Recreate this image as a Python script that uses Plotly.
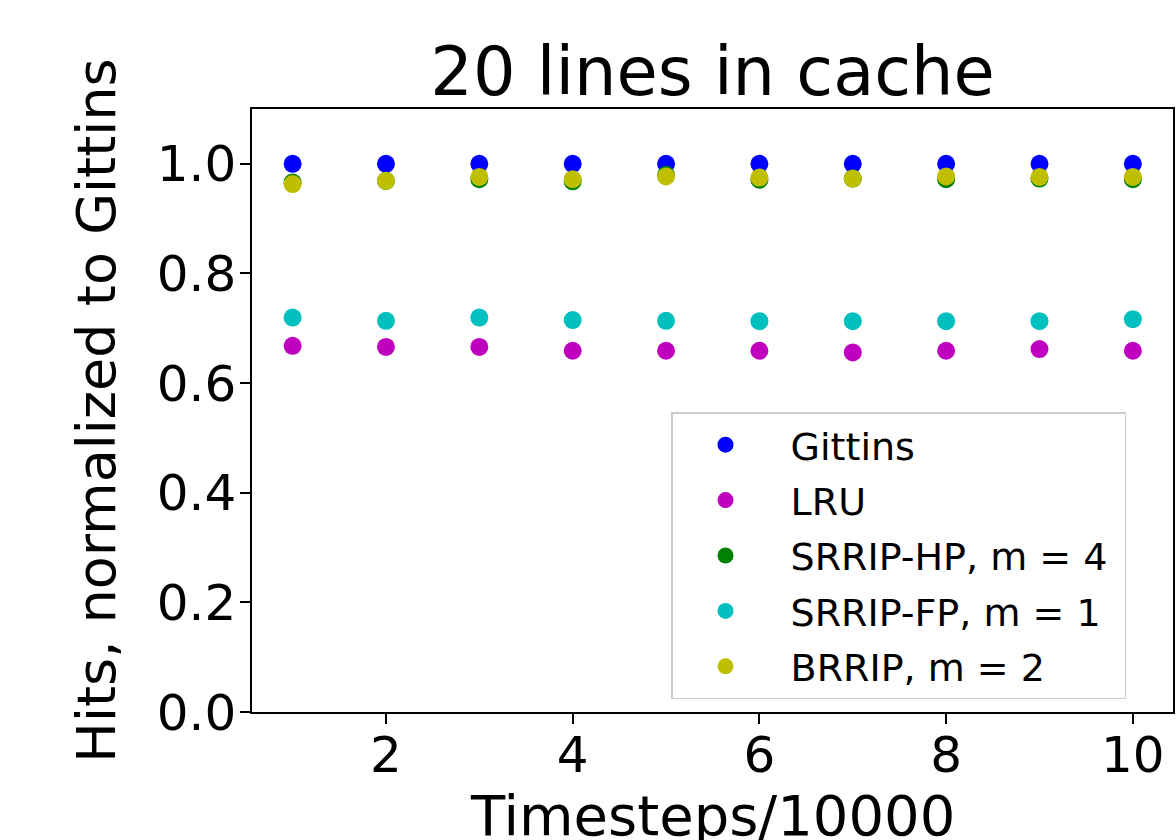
import plotly.graph_objects as go

timesteps = [1, 2, 3, 4, 5, 6, 7, 8, 9, 10]
gittins = [1.0, 1.0, 1.0, 1.0, 1.0, 1.0, 1.0, 1.0, 1.0, 1.0]
lru = [0.668, 0.666, 0.666, 0.659, 0.659, 0.659, 0.656, 0.659, 0.662, 0.659]
srrip_hp = [0.966, 0.969, 0.972, 0.968, 0.980, 0.971, 0.973, 0.972, 0.973, 0.972]
srrip_fp = [0.7195, 0.7135, 0.7195, 0.715, 0.7135, 0.713, 0.713, 0.713, 0.713, 0.7165]
brrip = [0.963, 0.969, 0.976, 0.972, 0.977, 0.975, 0.973, 0.977, 0.976, 0.976]

series = [
    ("Gittins", gittins, "rgb(0,0,255)"),
    ("LRU", lru, "rgb(191,0,191)"),
    ("SRRIP-HP, m = 4", srrip_hp, "rgb(0,128,0)"),
    ("SRRIP-FP, m = 1", srrip_fp, "rgb(0,191,191)"),
    ("BRRIP, m = 2", brrip, "rgb(191,191,0)"),
]

FONT = "DejaVu Sans"
NB = "\u00a0"
fig = go.Figure()
for i, (name, vals, col) in enumerate(series):
    fig.add_trace(go.Scatter(
        x=timesteps, y=vals, mode="markers", name=NB + name + NB, legendgroup=f"g{i}",
        marker=dict(size=18, color=col, line=dict(width=0)),
    ))

axis_common = dict(
    showline=True, linecolor="black", linewidth=1.5, mirror=True,
    ticks="outside", ticklen=10, tickwidth=1.5, tickcolor="black",
    showgrid=False, zeroline=False, automargin=False,
    tickfont=dict(family=FONT, size=50, color="black"),
)

fig.update_layout(
    width=1176, height=840,
    margin=dict(l=252, r=3, t=109, b=128),
    paper_bgcolor="white", plot_bgcolor="white",
    title=dict(text="20 lines in cache", x=(252 + 1173) / 2 / 1176, xanchor="center",
               y=1 - 95 / 840, yanchor="bottom",
               font=dict(family=FONT, size=67, color="black")),
    xaxis=dict(range=[0.565, 10.43], tickvals=[2, 4, 6, 8, 10],
               ticklabelstandoff=-12,
               **axis_common),
    yaxis=dict(range=[0, 1.1], tickvals=[0, 0.2, 0.4, 0.6, 0.8, 1.0],
               tickformat=".1f", ticklabelstandoff=-6,
               title=dict(text="Hits, normalized to Gittins", standoff=24,
                          font=dict(family=FONT, size=54, color="black")),
               **axis_common),
    legend=dict(x=(671 - 252) / 921, y=(712 - 412) / 603, xanchor="left", yanchor="top",
                bgcolor="rgba(255,255,255,0.8)", bordercolor="#cccccc", borderwidth=1.5,
                font=dict(family=FONT, size=38, color="black"),
                tracegroupgap=3, itemwidth=96),
    showlegend=True,
    annotations=[dict(text="Timesteps/10000", xref="paper", yref="paper",
                      x=0.5, y=(712 - 782) / 603, xanchor="center", yanchor="top",
                      showarrow=False, borderpad=0,
                      font=dict(family=FONT, size=56, color="black"))],
)

fig.write_html("out.html")
